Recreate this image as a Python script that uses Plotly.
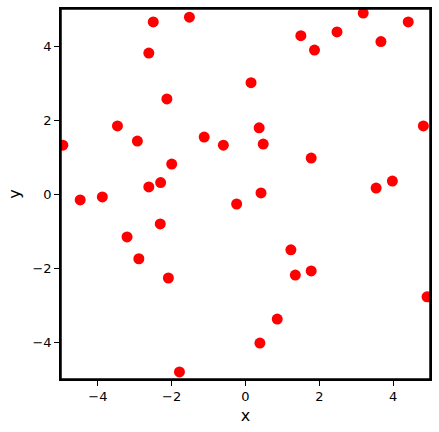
import plotly.graph_objects as go

x_vals = [-4.95, -4.48, -3.88, -3.47, -2.93, -2.62, -2.50, -1.52, -2.13, -2.62,
          -2.30, -2.00, -1.12, -0.60, -3.21, -2.89, -2.31, -2.09, -1.79, -0.24,
          3.19, 4.41, 1.50, 1.87, 2.48, 3.67, 0.15, 0.37, 0.48, 1.78,
          4.82, 3.98, 3.54, 0.42, 1.23, 1.35, 1.78, 4.92, 0.86, 0.39]
y_vals = [1.32, -0.16, -0.08, 1.84, 1.43, 3.81, 4.65, 4.78, 2.57, 0.19,
          0.31, 0.81, 1.54, 1.32, -1.16, -1.75, -0.81, -2.27, -4.81, -0.27,
          4.89, 4.65, 4.28, 3.89, 4.38, 4.12, 3.01, 1.79, 1.35, 0.97,
          1.84, 0.35, 0.16, 0.03, -1.51, -2.19, -2.08, -2.78, -3.38, -4.03]
tick_vals = [-4, -2, 0, 2, 4]
tick_text = ["\u22124", "\u22122", "0", "2", "4"]

fig = go.Figure(go.Scatter(
    x=x_vals, y=y_vals, mode="markers",
    marker=dict(color="red", size=11, line=dict(width=0)),
))

axis_common = dict(
    range=[-5, 5], tickvals=tick_vals, ticktext=tick_text,
    showgrid=False, zeroline=False, showline=True, linecolor="black",
    linewidth=1.5, mirror=True, ticks="outside", ticklen=5, tickwidth=1,
    tickcolor="black", tickfont=dict(size=13, color="black"), automargin=False,
)

fig.update_layout(
    width=439, height=432,
    margin=dict(l=61, r=9, t=9, b=53),
    paper_bgcolor="white", plot_bgcolor="white",
    font=dict(family="DejaVu Sans", size=13, color="black"),
    showlegend=False,
    xaxis=dict(title=dict(text="x", standoff=6), **axis_common),
    yaxis=dict(title=dict(text="y", standoff=8), **axis_common),
    shapes=[dict(type="rect", xref="paper", yref="paper", x0=0, y0=0, x1=1, y1=1,
                 line=dict(color="black", width=1.5), fillcolor="rgba(0,0,0,0)",
                 layer="above")],
)

fig.write_html("out.html", config={"displayModeBar": False})

with open("out.html", "r", encoding="utf-8") as f:
    html = f.read()
html = html.replace("<head>", "<head><style>html,body{margin:0;padding:0;overflow:hidden;}</style>", 1)
with open("out.html", "w", encoding="utf-8") as f:
    f.write(html)
